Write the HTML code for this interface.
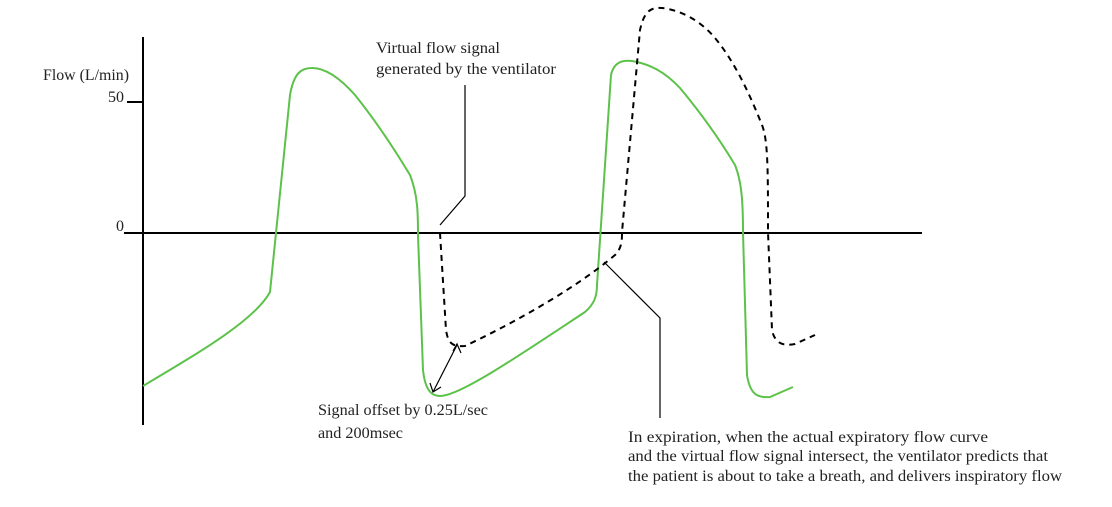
<!DOCTYPE html>
<html><head><meta charset="utf-8"><style>
html,body{margin:0;padding:0;background:#fff;}
svg{display:block;}
text{font-family:"Liberation Serif",serif;font-size:16px;fill:#222;}
</style></head><body>
<svg width="1112" height="507" viewBox="0 0 1112 507" xmlns="http://www.w3.org/2000/svg">
<g stroke="#000" stroke-width="2" fill="none">
<line x1="143" y1="37" x2="143" y2="425"/>
<line x1="143" y1="233" x2="922" y2="233"/>
<line x1="127" y1="102" x2="143" y2="102"/>
<line x1="124" y1="233" x2="143" y2="233"/>
</g>
<text x="43" y="80" textLength="86" lengthAdjust="spacingAndGlyphs">Flow (L/min)</text>
<text x="108" y="102">50</text>
<text x="116" y="231">0</text>
<path d="M143,386 C200,352 255,320 270,292 L290,95 C294,72 302,68 312,68 C325,68 340,78 355,95 C375,120 395,150 410,175 C418,195 418,215 418,235 L423,370 C425,388 430,396 440,396 C460,396 520,355 585,312 C593,305 597,298 597,285 L611,75 C614,62 622,60 632,61 C650,64 665,72 680,88 C700,112 720,140 735,165 C742,182 743,205 743,232 L747,375 C750,395 758,398 770,397 L793,387" fill="none" stroke="#5cc24a" stroke-width="2"/>
<path d="M440,233 L446,330 C448,343 452,347 465,346 C520,320 580,285 615,255 C622,248 622,240 622,232 L640,30 C644,12 650,7 662,8 C680,10 700,20 715,38 C735,62 750,95 762,125 C768,140 768,170 768,232 L772,330 C775,345 785,346 795,344 L815,335" fill="none" stroke="#000" stroke-width="2" stroke-dasharray="6,5"/>
<polyline points="440,225 465,196 465,85" fill="none" stroke="#000" stroke-width="1.2"/>
<polyline points="604,262 660,318 660,418" fill="none" stroke="#000" stroke-width="1.2"/>
<line x1="433" y1="392" x2="457" y2="345" stroke="#000" stroke-width="1.2"/>
<polyline points="430,383 433,392 441,387" fill="none" stroke="#000" stroke-width="1.2"/>
<polyline points="453,351 457,344 461,353" fill="none" stroke="#000" stroke-width="1.2"/>
<text x="376" y="53" textLength="124" lengthAdjust="spacingAndGlyphs">Virtual flow signal</text>
<text x="376" y="74" textLength="180" lengthAdjust="spacingAndGlyphs">generated by the ventilator</text>
<text x="318" y="415" textLength="170" lengthAdjust="spacingAndGlyphs">Signal offset by 0.25L/sec</text>
<text x="318" y="438" textLength="85" lengthAdjust="spacingAndGlyphs">and 200msec</text>
<text x="628" y="442" textLength="360" lengthAdjust="spacingAndGlyphs">In expiration, when the actual expiratory flow curve</text>
<text x="628" y="461" textLength="420" lengthAdjust="spacingAndGlyphs">and the virtual flow signal intersect, the ventilator predicts that</text>
<text x="628" y="481" textLength="434" lengthAdjust="spacingAndGlyphs">the patient is about to take a breath, and delivers inspiratory flow</text>
</svg>
</body></html>
